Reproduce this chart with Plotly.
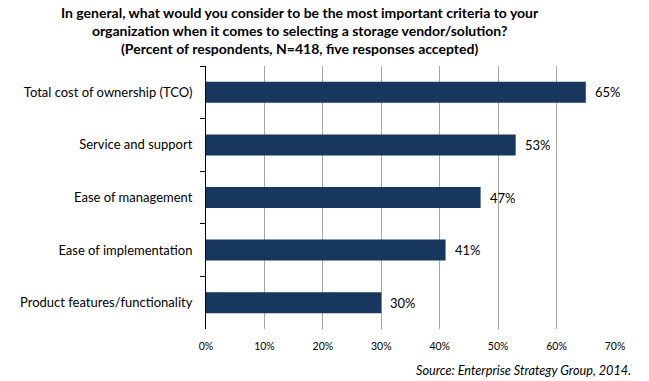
import plotly.graph_objects as go

categories = ["Total cost of ownership (TCO)", "Service and support", "Ease of management",
              "Ease of implementation", "Product features/functionality"]
values = [65, 53, 47, 41, 30]
tick_vals = [0, 10, 20, 30, 40, 50, 60, 70]
tick_text = ["0%", "10%", "20%", "30%", "40%", "50%", "60%", "70%"]
title_lines = ["In general, what would you consider to be the most important criteria to your",
               "organization when it comes to selecting a storage vendor/solution?",
               "(Percent of respondents, N=418, five responses accepted)"]
source_text = "Source: Enterprise Strategy Group, 2014."

FONT = "Lato"
BAR = "#17375E"
W, H = 649, 381
ML, MR, MT, MB = 206, 34, 66, 52
PW, PH = W - ML - MR, H - MT - MB

fig = go.Figure(go.Bar(
    x=values, y=categories, orientation="h",
    marker=dict(color=BAR, line=dict(width=0)),
    hoverinfo="skip",
))

annotations = [
    dict(x=v, y=c, xref="x", yref="y", text=f"{v}%", showarrow=False,
         xanchor="left", xshift=7, font=dict(family=FONT, size=13, color="#000"))
    for c, v in zip(categories, values)
]
annotations.append(dict(
    x=(300 - ML) / PW, y=1 + (MT - 2) / PH, xref="paper", yref="paper",
    xanchor="center", yanchor="top", align="center",
    text="<b>" + "<br>".join(title_lines) + "</b>", showarrow=False,
    font=dict(family=FONT, size=14, color="#000")))
annotations.append(dict(
    x=(633 - ML) / PW, y=-(360 - MT - PH) / PH, xref="paper", yref="paper",
    xanchor="right", yanchor="top",
    text="<i>" + source_text + "</i>", showarrow=False,
    font=dict(family=FONT, size=12.7, color="#000")))

fig.update_layout(
    width=W, height=H,
    margin=dict(l=ML, r=MR, t=MT, b=MB, autoexpand=False),
    paper_bgcolor="white", plot_bgcolor="white",
    bargap=0.6,
    showlegend=False,
    font=dict(family=FONT, color="#000"),
    xaxis=dict(range=[0, 70], tickvals=tick_vals, ticktext=tick_text,
               showgrid=True, gridcolor="#A6A6A6", gridwidth=1,
               zeroline=False, showline=False, ticks="", automargin=False,
               ticklabelstandoff=9,
               tickfont=dict(family=FONT, size=10.5, color="#000")),
    yaxis=dict(autorange="reversed", showline=True, linecolor="#000", linewidth=1,
               ticks="outside", tickson="boundaries", ticklen=5, tickcolor="#000",
               showgrid=False, zeroline=False, automargin=False,
               ticklabelstandoff=10,
               tickfont=dict(family=FONT, size=13, color="#000")),
    annotations=annotations,
)

fig.write_html("out.html", config={"displayModeBar": False},
               post_script="document.body.style.margin='0px';")
